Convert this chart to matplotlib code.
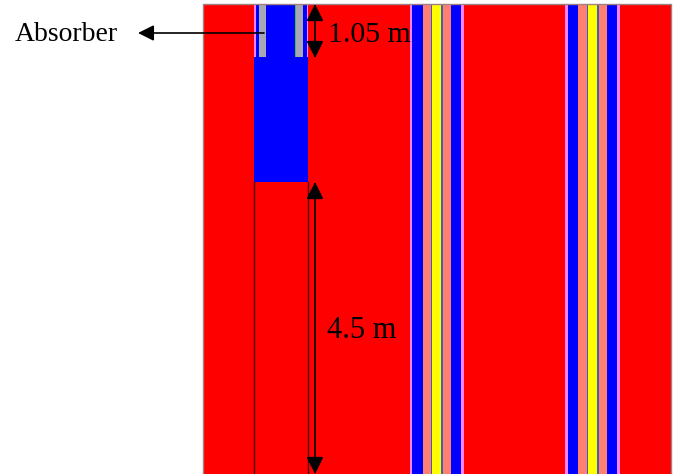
import matplotlib
matplotlib.use('Agg')
import matplotlib.pyplot as plt
from matplotlib.patches import Rectangle

# all in picture pixels, y going down
core_left = 203
core_right = 671
core_top = 4
core_bottom = 474

# background red, then the two fuel assemblies
assembly_1_edges = [410, 412, 423, 431, 432, 441, 443, 451, 461, 464]
assembly_2_edges = [565, 568, 578, 587, 588, 597, 599, 607, 617, 620]
assembly_colors = ['#ff80ff', '#0000ff', '#ff8070', '#4060c0', '#ffff00', '#4060c0', '#ff8070', '#0000ff', '#ff80ff']

# absorber channel
channel_left = 254
channel_right = 308
absorber_bottom = 57
follower_bottom = 182
rod_edges = [[259, 266], [296, 302.5]]
liner_edges = [[254, 256], [306.5, 308]]

fig = plt.figure(figsize=(6.78, 4.74), dpi=100)
ax = fig.add_axes([0, 0, 1, 1])
ax.set_xlim(0, 678)
ax.set_ylim(474, 0)
ax.axis('off')


def band(x0, x1, y0, y1, color):
    ax.add_patch(Rectangle((x0, y0), x1 - x0, y1 - y0, facecolor=color, edgecolor='none'))


band(core_left, core_right, core_top, core_bottom, '#ff0000')
ax.plot([core_left, core_left, core_right, core_right], [core_bottom, core_top, core_top, core_bottom],
        color='#a08080', lw=1)

for edges in [assembly_1_edges, assembly_2_edges]:
    for i in range(len(assembly_colors)):
        band(edges[i], edges[i + 1], core_top, core_bottom, assembly_colors[i])

band(channel_left, channel_right, core_top, follower_bottom, '#0000ff')
for x0, x1 in liner_edges:
    band(x0, x1, core_top, absorber_bottom, '#ff80ff')
for x0, x1 in rod_edges:
    band(x0, x1, core_top, absorber_bottom, '#a8a8b4')
band(295, 296, core_top, absorber_bottom, '#40c040')

ax.plot([channel_left, channel_left], [follower_bottom, core_bottom], color='#500000', lw=1)
ax.plot([channel_right, channel_right], [follower_bottom, core_bottom], color='#500000', lw=1)

arrow = dict(arrowstyle='<|-|>', color='black', lw=1.2, mutation_scale=26, shrinkA=0, shrinkB=0)
ax.annotate('', xy=(315, 4), xytext=(315, 58), arrowprops=arrow)
ax.annotate('', xy=(315, 182), xytext=(315, 474), arrowprops=arrow)
ax.annotate('', xy=(138, 33), xytext=(264, 33),
            arrowprops=dict(arrowstyle='-|>', color='black', lw=1.2, mutation_scale=24, shrinkA=0, shrinkB=0))

ax.text(15, 34, 'Absorber', family='Liberation Serif', fontsize=20, va='center', ha='left', color='black')
ax.text(328, 35, '1.05 m', family='Liberation Serif', fontsize=21.5, va='center', ha='left', color='black')
ax.text(327, 330, '4.5 m', family='Liberation Serif', fontsize=22, va='center', ha='left', color='black')

fig.savefig('out.png', dpi=100)
